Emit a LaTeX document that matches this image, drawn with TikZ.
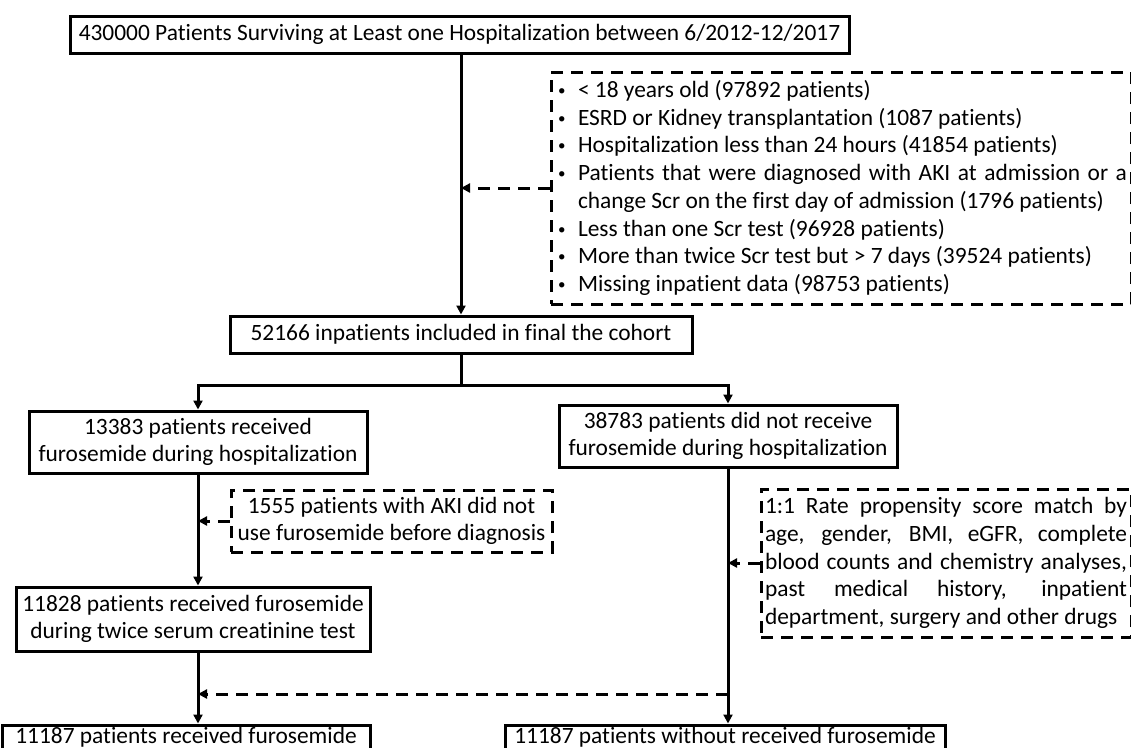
\documentclass[tikz,border=0pt]{standalone}
\usepackage{fontspec}
\setmainfont{Carlito}[Ligatures=NoCommon]
\usetikzlibrary{arrows.meta,calc}
\newcommand\fs{\fontsize{23.4}{27.75}\selectfont}
\newcommand\bul{\makebox[21pt][l]{\hspace*{1pt}\raisebox{2pt}{\fontsize{15}{15}\selectfont •}}}
\newcommand\jline[1]{\makebox[\linewidth][s]{#1}}
\begin{document}
\begin{tikzpicture}[x=1pt,y=-1pt,
  box/.style={draw, line width=3pt, inner sep=0pt, align=center, font=\fs},
  dbox/.style={draw, line width=3pt, inner sep=0pt, font=\fs, dash pattern=on 12pt off 8pt},
  conn/.style={line width=3pt, -{Triangle[length=9pt,width=9pt]}},
  dconn/.style={line width=3pt, dash pattern=on 12pt off 8pt, -{Triangle[length=9pt,width=9pt]}}]
\begin{scope}
\clip (0,0) rectangle (1131,747);
% solid boxes
\node[box, minimum width=779pt, minimum height=37pt] (top) at (459.5,34.5)
  {430000 Patients Surviving at Least one Hospitalization between 6/2012-12/2017};
\node[box, minimum width=462pt, minimum height=37pt] (cohort) at (461,334.5)
  {52166 inpatients included in final the cohort};
\node[box, minimum width=338pt, minimum height=62pt] (furo) at (198,442)
  {13383 patients received\\furosemide during hospitalization};
\node[box, minimum width=338pt, minimum height=62pt] (nofuro) at (728,436)
  {38783 patients did not receive\\furosemide during hospitalization};
\node[box, minimum width=354pt, minimum height=64pt] (f11828) at (193,619)
  {11828 patients received furosemide\\during twice serum creatinine test};
\node[box, minimum width=368pt, minimum height=24pt] (bl) at (186,737)
  {11187 patients received furosemide};
\node[box, minimum width=440pt, minimum height=24pt] (brx) at (725,737)
  {11187 patients without received furosemide};
% dashed boxes
\node[dbox, minimum width=580pt, minimum height=232pt] (excl) at (841,188)
  {\parbox[c]{568pt}{\raggedright
   \bul< 18 years old (97892 patients)\\
   \bul ESRD or Kidney transplantation (1087 patients)\\
   \bul Hospitalization less than 24 hours (41854 patients)\\
   \bul\makebox[549pt][s]{Patients that were diagnosed with AKI at admission or a}\\
   \hspace*{21pt}change Scr on the first day of admission (1796 patients)\\
   \bul Less than one Scr test (96928 patients)\\
   \bul More than twice Scr test but > 7 days (39524 patients)\\
   \bul Missing inpatient data (98753 patients)}};
\node[dbox, minimum width=321pt, minimum height=62pt, align=center] (e1555) at (391.5,521)
  {1555 patients with AKI did not\\use furosemide before diagnosis};
\node[dbox, minimum width=370pt, minimum height=148pt] (prop) at (946,563)
  {\parbox[c]{362pt}{%
   \jline{1:1 Rate propensity score match by}\\
   \jline{age, gender, BMI, eGFR, complete}\\
   \jline{blood counts and chemistry analyses,}\\
   \jline{past medical history, inpatient}\\
   department, surgery and other drugs}};
% connectors
\draw[conn] (top.south -| cohort.north) -- (cohort.north);
\coordinate (m1) at (cohort.north |- excl.west);
\draw[dconn] (excl.west) -- (m1);
\coordinate (split) at ($(cohort.south)+(0,31)$);
\draw[conn] (cohort.south) -- (split) -| (furo.north);
\draw[conn] (split) -| (nofuro.north);
\coordinate (m2) at (furo.south |- e1555.west);
\draw[conn] (furo.south) -- (furo.south |- f11828.north);
\draw[dconn] (e1555.west) -- (m2);
\draw[conn] (furo.south |- f11828.south) -- (furo.south |- bl.north);
\draw[conn] (nofuro.south) -- (nofuro.south |- brx.north);
\coordinate (m3) at (nofuro.south |- prop.west);
\draw[dconn] (prop.west) -- (m3);
\coordinate (j1) at (nofuro.south |- 0,694);
\coordinate (j2) at (j1 -| furo.south);
\draw[dconn] (j1) -- (j2);
\end{scope}
\pgfresetboundingbox
\path[use as bounding box] (0,0) rectangle (1131,747);
\end{tikzpicture}
\end{document}
